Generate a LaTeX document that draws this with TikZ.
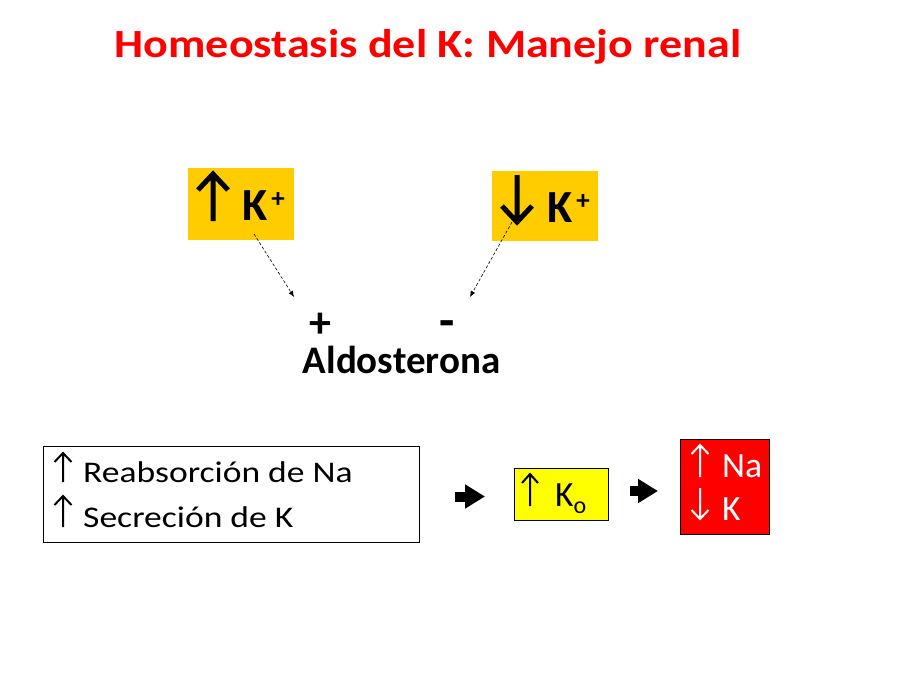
\documentclass[tikz,border=0pt]{standalone}
\usepackage{fontspec}
\setmainfont{Carlito}
\usetikzlibrary{arrows.meta}
\definecolor{gold}{HTML}{FFCC00}
\definecolor{kyellow}{HTML}{FFFF00}
\definecolor{kred}{HTML}{FF0000}
\begin{document}
\begin{tikzpicture}[x=1pt,y=-1pt,
  kbox/.style={fill=gold,draw=none,inner sep=0pt},
  bigtxt/.style={font=\fontsize{46}{50}\selectfont\bfseries,inner sep=0pt,anchor=base west},
  bodytxt/.style={font=\fontsize{30}{36}\selectfont,inner sep=0pt,anchor=base west},
  txt/.style={font=\fontsize{35.5}{40}\selectfont,inner sep=0pt,anchor=base west},
  bigglyph/.style={line width=5pt,line join=miter},
  glyph/.style={line width=2pt,line join=miter},
  dasharrow/.style={densely dashed,line width=0.6pt,-{Latex[length=6pt,width=5pt]}},
  fatarrow/.style={line width=10pt,-{Triangle[length=20pt,width=23pt]}},
  frame/.style={draw=black,line width=0.8pt,inner sep=0pt}
]
\useasboundingbox (0,0) rectangle (907,672);
\node[font=\fontsize{40}{44}\selectfont\bfseries,text=kred,anchor=base,inner sep=0pt] (title) at (428,57) {\scalebox{1.15}[1]{Homeostasis del K: Manejo renal}};

% top boxes
\node[kbox,minimum width=106pt,minimum height=72pt] (kup) at (241,204) {};
\node[kbox,minimum width=106pt,minimum height=70pt] (kdown) at (545,206) {};
\node[bigtxt] (kupt) at (242,220) {K\hspace{4pt}\raisebox{13pt}{\fontsize{27}{27}\selectfont +}};
\node[bigtxt] (kdownt) at (547,222) {K\hspace{4pt}\raisebox{13pt}{\fontsize{27}{27}\selectfont +}};
\draw[bigglyph] (213,221) -- (213,174) (198,190) -- (213,174) -- (228,190);
\draw[bigglyph] (517,175) -- (517,222) (502,206) -- (517,222) -- (532,206);

\node[font=\fontsize{44}{48}\selectfont\bfseries,inner sep=0pt] (plus) at (320,325) {+};
\node[font=\fontsize{50}{54}\selectfont\bfseries,inner sep=0pt,anchor=base] (minus) at (447,337) {-};
\node[font=\fontsize{39}{44}\selectfont\bfseries,anchor=base,inner sep=0pt] (aldo) at (401.5,373) {Aldosterona};

\coordinate (a1s) at (254,234);
\coordinate (a1e) at (294,297);
\coordinate (a2s) at (512,222);
\coordinate (a2e) at (470,297);
\draw[dasharrow] (a1s) -- (a1e);
\draw[dasharrow] (a2s) -- (a2e);

% left box
\node[frame,minimum width=376pt,minimum height=96pt] (box1) at (231,494) {};
\node[bodytxt] (l1) at (83,482) {\scalebox{1.185}[1]{Reabsorción de Na}};
\node[bodytxt] (l2) at (83,527) {\scalebox{1.185}[1]{Secreción de K}};
\draw[glyph] (63,482) -- (63,453) (54.5,462) -- (63,453) -- (71.5,462);
\draw[glyph] (63,527) -- (63,496) (54.5,505) -- (63,496) -- (71.5,505);

\coordinate (f1s) at (455,496.5);
\coordinate (f1e) at (485,496.5);
\draw[fatarrow] (f1s) -- (f1e);

% Ko box
\node[frame,fill=kyellow,minimum width=94pt,minimum height=52pt] (ko) at (561,494) {};
\node[txt] (kot) at (555,506) {K\raisebox{-7pt}{\fontsize{24}{24}\selectfont o}};
\draw[glyph] (530,506) -- (530,474) (522,483) -- (530,474) -- (538,483);

\coordinate (f2s) at (630,491);
\coordinate (f2e) at (658,491);
\draw[fatarrow] (f2s) -- (f2e);

% red box
\node[frame,fill=kred,minimum width=89pt,minimum height=95pt] (red) at (724.5,486.5) {};
\node[txt,text=white] (r1) at (722,477) {Na};
\node[txt,text=white] (r2) at (722,520) {K};
\draw[glyph,white] (700,477) -- (700,445) (691.5,454) -- (700,445) -- (708.5,454);
\draw[glyph,white] (700,488) -- (700,519) (691.5,510) -- (700,519) -- (708.5,510);
\end{tikzpicture}
\end{document}
